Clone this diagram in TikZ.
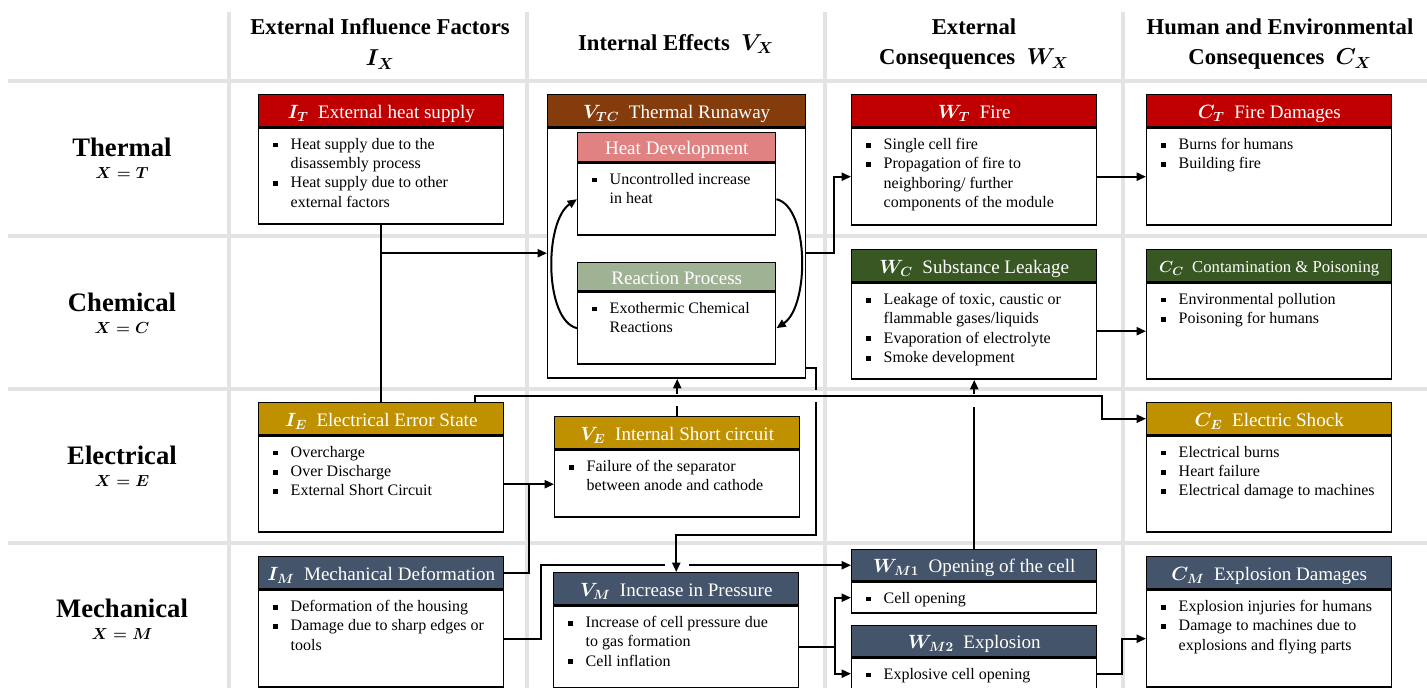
\documentclass[tikz,border=0pt]{standalone}
\usepackage{amsmath}
\usepackage{fontspec}
\setmainfont{Liberation Serif}
\usetikzlibrary{arrows.meta,calc}
\newlength\pxu \setlength\pxu{0.75pt}
\definecolor{cRed}{HTML}{C00000}
\definecolor{cBrown}{HTML}{843C0C}
\definecolor{cPink}{HTML}{E08282}
\definecolor{cSage}{HTML}{A0B294}
\definecolor{cGreen}{HTML}{385723}
\definecolor{cGold}{HTML}{BF9000}
\definecolor{cSlate}{HTML}{44546A}
\definecolor{gridc}{HTML}{E3E3E3}
\newcommand\bd[3]{\begin{minipage}[c][#2\pxu][t]{#1\pxu}\fontsize{12}{14.5}\selectfont\leftskip=14\pxu\rightskip=0pt plus 1fil\parindent=0pt\vspace*{10\pxu}#3\end{minipage}}
\newcommand\bul[1]{\par\noindent\hangindent=18\pxu\hangafter=1\makebox[18\pxu][l]{\raisebox{0.12em}{\rule{0.3em}{0.3em}}}#1\par}
\newcommand\hs[2]{{\boldmath$#1$}\enspace #2}
\tikzset{
  gridl/.style={draw=gridc, line width=3.6pt},
  hd/.style={draw=black, fill=#1, line width=1.1pt, text=white, inner sep=0pt, anchor=north west, minimum width=245\pxu, minimum height=32\pxu, text height=11.5pt, text depth=0pt, font=\fontsize{14.3}{16}\selectfont},
  bx/.style={draw=black, fill=white, line width=1.1pt, inner sep=0pt, anchor=north west},
  ln/.style={line width=1.5pt, draw=black},
  arr/.style={ln, -{Triangle[length=7pt,width=6pt]}},
  colh/.style={font=\fontsize{17}{23}\selectfont\bfseries\boldmath, align=center, inner sep=0pt},
  rowh/.style={font=\fontsize{20}{24}\selectfont\bfseries, inner sep=0pt},
  rows/.style={font=\fontsize{13}{15}\selectfont\boldmath, inner sep=0pt},
}
\begin{document}
\begin{tikzpicture}[x=0.75pt,y=-0.75pt]
\useasboundingbox (0,0) rectangle (1427,688);
% grid
\foreach \gx in {229,527,825,1123} \draw[gridl] (\gx,12) -- (\gx,688);
\foreach \gy in {81,236,389,543} \draw[gridl] (8,\gy) -- (1427,\gy);
% column headers
\node[colh] (h1) at (380,44) {External Influence Factors\\$I_X$};
\node[colh] (h2) at (676,44) {Internal Effects\enspace$V_X$};
\node[colh] (h3) at (974,44) {External\\Consequences\enspace$W_X$};
\node[colh] (h4) at (1280,44) {Human and Environmental\\Consequences\enspace$C_X$};
% row headers
\node[rowh] (rT) at (122,147) {Thermal};
\node[rows] (rTs) at (122,173) {$X=T$};
\node[rowh] (rC) at (122,302) {Chemical};
\node[rows] (rCs) at (122,328) {$X=C$};
\node[rowh] (rE) at (122,455) {Electrical};
\node[rows] (rEs) at (122,481) {$X=E$};
\node[rowh] (rM) at (122,608) {Mechanical};
\node[rows] (rMs) at (122,634) {$X=M$};
% Thermal row
\node[hd=cRed] (IT) at (258,94) {\hs{I_T}{External heat supply}};
\node[bx] (ITb) at (IT.south west) {\bd{245}{96}{\bul{Heat supply due to the\newline disassembly process}\bul{Heat supply due to other\newline external factors}}};
\node[hd=cBrown, minimum width=258\pxu] (VTC) at (547,94) {\hs{V_{TC}}{Thermal Runaway}};
\node[bx, minimum width=258\pxu, minimum height=250\pxu] (VTCb) at (VTC.south west) {};
\node[hd=cPink, minimum width=198\pxu, minimum height=29\pxu, text height=11pt] (HD) at (577,132) {Heat Development};
\node[bx] (HDb) at (HD.south west) {\bd{198}{72}{\bul{Uncontrolled increase\newline in heat}}};
\node[hd=cSage, minimum width=198\pxu, minimum height=28\pxu, text height=11pt] (RP) at (577,262) {Reaction Process};
\node[bx] (RPb) at (RP.south west) {\bd{198}{72}{\bul{Exothermic Chemical\newline Reactions}}};
\node[hd=cRed] (WT) at (851,94) {\hs{W_T}{Fire}};
\node[bx] (WTb) at (WT.south west) {\bd{245}{97}{\bul{Single cell fire}\bul{Propagation of fire to\newline neighboring/ further\newline components of the module}}};
\node[hd=cRed] (CT) at (1146,94) {\hs{C_T}{Fire Damages}};
\node[bx] (CTb) at (CT.south west) {\bd{245}{97}{\bul{Burns for humans}\bul{Building fire}}};
% Chemical row
\node[hd=cGreen] (WC) at (851,249) {\hs{W_C}{Substance Leakage}};
\node[bx] (WCb) at (WC.south west) {\bd{245}{96}{\bul{Leakage of toxic, caustic or\newline flammable gases/liquids}\bul{Evaporation of electrolyte}\bul{Smoke development}}};
\node[hd=cGreen, font=\fontsize{12.5}{15}\selectfont, text height=10.5pt] (CC) at (1146,249) {\hs{C_C}{Contamination \& Poisoning}};
\node[bx] (CCb) at (CC.south west) {\bd{245}{96}{\bul{Environmental pollution}\bul{Poisoning for humans}}};
% Electrical row
\node[hd=cGold] (IE) at (258,402) {\hs{I_E}{Electrical Error State}};
\node[bx] (IEb) at (IE.south west) {\bd{245}{96}{\bul{Overcharge}\bul{Over Discharge}\bul{External Short Circuit}}};
\node[hd=cGold] (VE) at (554,416) {\hs{V_E}{Internal Short circuit}};
\node[bx] (VEb) at (VE.south west) {\bd{245}{67}{\bul{Failure of the separator\newline between anode and cathode}}};
\node[hd=cGold] (CE) at (1146,402) {\hs{C_E}{Electric Shock}};
\node[bx] (CEb) at (CE.south west) {\bd{245}{96}{\bul{Electrical burns}\bul{Heart failure}\bul{Electrical damage to machines}}};
% Mechanical row
\node[hd=cSlate] (IM) at (258,556) {\hs{I_M}{Mechanical Deformation}};
\node[bx] (IMb) at (IM.south west) {\bd{245}{97}{\bul{Deformation of the housing}\bul{Damage due to sharp edges or\newline tools}}};
\node[hd=cSlate] (VM) at (553,572) {\hs{V_M}{Increase in Pressure}};
\node[bx] (VMb) at (VM.south west) {\bd{245}{82}{\bul{Increase of cell pressure due\newline to gas formation}\bul{Cell inflation}}};
\node[hd=cSlate, minimum height=31\pxu] (WM1) at (851,549) {\hs{W_{M1}}{Opening of the cell}};
\node[bx] (WM1b) at (WM1.south west) {\bd{245}{31}{\bul{Cell opening}}};
\node[hd=cSlate, minimum height=31\pxu] (WM2) at (851,625) {\hs{W_{M2}}{Explosion}};
\node[bx] (WM2b) at (WM2.south west) {\bd{245}{31}{\bul{Explosive cell opening}}};
\node[hd=cSlate] (CM) at (1146,556) {\hs{C_M}{Explosion Damages}};
\node[bx] (CMb) at (CM.south west) {\bd{245}{97}{\bul{Explosion injuries for humans}\bul{Damage to machines due to\newline explosions and flying parts}}};
% connectors
\coordinate (hl) at (0,396);
\draw[ln] (ITb.south) -- (IE.north);
\draw[arr] (ITb.south |- VTCb.west) -- (VTCb.west);
\draw[arr] (VTCb.east) -- ++(28,0) |- (WTb.west);
\draw[arr] (WTb.east) -- (CTb.west);
\draw[arr] (WCb.east) -- (WCb.east -| CCb.west);
\draw[arr] (RPb.west) .. controls +(-33,-8) and +(-33,22) .. (HDb.west);
\draw[arr] (HDb.east) .. controls +(33,8) and +(33,-22) .. (RPb.east);
% electrical
\draw[arr] (IEb.east) -- (IEb.east -| VEb.west);
\coordinate (jE) at ($(IEb.east)!0.5!(IEb.east -| VEb.west)$);
\draw[ln] (IM.east) -| (jE);
\coordinate (ieo) at ($(IE.north east)+(-29,0)$);
\coordinate (cex) at ($(CE.west)+(-44,0)$);
\draw[arr] (ieo) |- (cex |- hl) |- (CE.west);
\draw[ln] (VE.north) -- ($(VE.north |- hl)+(0,10)$);
\draw[arr] ($(VE.north |- hl)+(0,-2)$) -- (VE.north |- VTCb.south);
\draw[ln] (WM1.north) -- ($(WM1.north |- hl)+(0,11)$);
\draw[arr] ($(WM1.north |- hl)+(0,-2)$) -- (WM1.north |- WCb.south);
% thermal runaway to pressure
\coordinate (t1) at ($(VTCb.south east)+(0,-11)$);
\coordinate (t2) at ($(t1)+(10,0)$);
\coordinate (t3) at ($(VEb.south)+(0,17)$);
\draw[ln] (t1) -- (t2) -- ($(t2 |- hl)+(0,-6)$);
\draw[arr] ($(t2 |- hl)+(0,6)$) -- (t2 |- t3) -| (VM.north);
% mechanical
\coordinate (m1) at ($(IMb.east)+(37,0)$);
\draw[ln] (IMb.east) -- (m1) |- ($(VM.north |- WM1.west)+(-11,0)$);
\draw[arr] ($(VM.north |- WM1.west)+(13,0)$) -- (WM1.west);
\coordinate (jM) at ($(VMb.east)+(36,0)$);
\draw[ln] (VMb.east) -- (jM);
\draw[arr] (jM) |- (WM1b.west);
\draw[arr] (jM) |- (WM2b.west);
\draw[arr] (WM2b.east) -- ++(25,0) |- (CMb.west);
\end{tikzpicture}
\end{document}
